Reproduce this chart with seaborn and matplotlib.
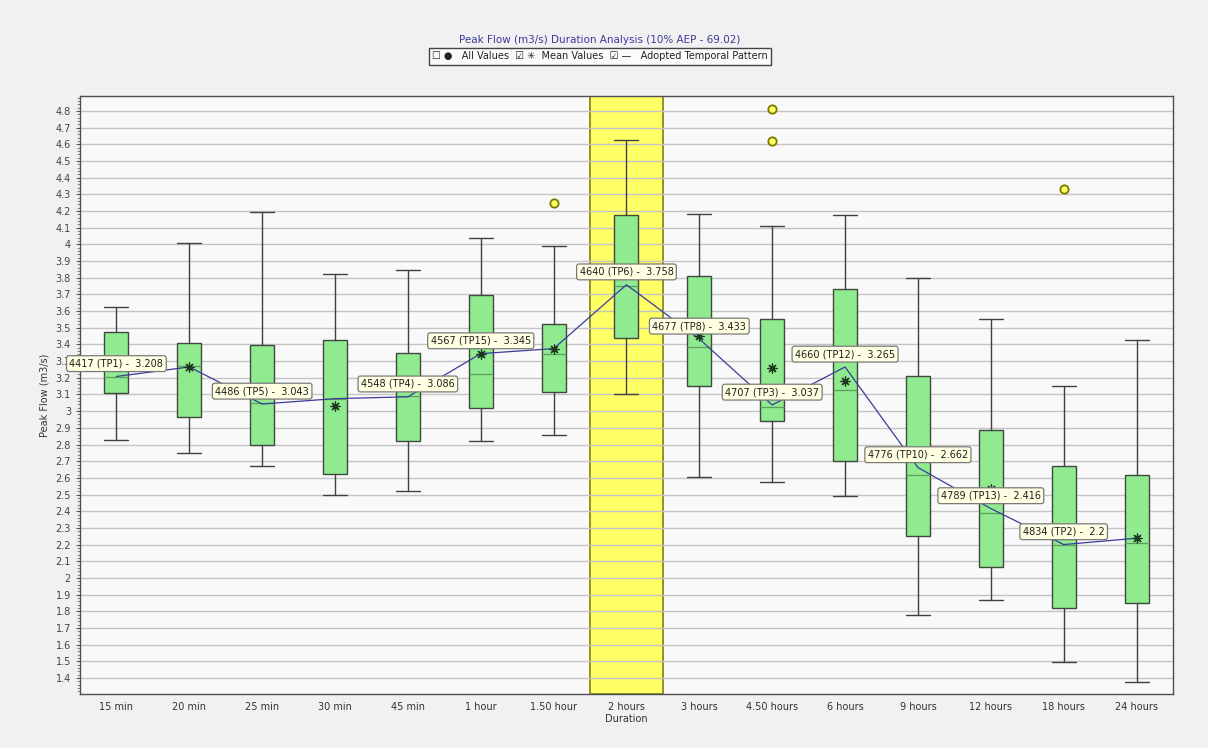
import numpy as np
import matplotlib
matplotlib.use("Agg")
import matplotlib.pyplot as plt
import matplotlib.ticker as mticker
import seaborn as sns

sns.set_style("white")
plt.rcParams["font.family"] = ["DejaVu Sans"]

# ---- data ----
durations = ["15 min", "20 min", "25 min", "30 min", "45 min", "1 hour", "1.50 hour",
             "2 hours", "3 hours", "4.50 hours", "6 hours", "9 hours", "12 hours",
             "18 hours", "24 hours"]
whisker_low = [2.828, 2.751, 2.669, 2.499, 2.524, 2.82, 2.86, 3.10, 2.604, 2.573,
               2.493, 1.78, 1.867, 1.497, 1.377]
q1 = [3.107, 2.967, 2.799, 2.624, 2.824, 3.018, 3.114, 3.441, 3.153, 2.939,
      2.70, 2.249, 2.065, 1.821, 1.851]
medians = [3.205, 3.27, 3.05, 3.07, 3.09, 3.225, 3.345, 3.75, 3.384, 3.024,
           3.124, 2.62, 2.391, 2.20, 2.209]
q3 = [3.477, 3.411, 3.399, 3.424, 3.35, 3.699, 3.52, 4.178, 3.81, 3.55,
      3.73, 3.213, 2.889, 2.669, 2.62]
whisker_high = [3.627, 4.01, 4.194, 3.822, 3.846, 4.04, 3.99, 4.628, 4.182, 4.108,
                4.178, 3.80, 3.55, 3.15, 3.425]
means = [3.285, 3.263, 3.12, 3.03, 3.163, 3.345, 3.375, 3.835, 3.449, 3.26,
         3.18, 2.739, 2.535, 2.277, 2.238]
adopted = [3.208, 3.265, 3.043, 3.075, 3.086, 3.345, 3.375, 3.758, 3.433, 3.037,
           3.265, 2.662, 2.416, 2.2, 2.238]

outlier_cats = ["1.50 hour", "4.50 hours", "4.50 hours", "18 hours"]
outlier_vals = [4.248, 4.812, 4.618, 4.33]

label_cats = ["15 min", "25 min", "45 min", "1 hour", "2 hours", "3 hours",
              "4.50 hours", "6 hours", "9 hours", "12 hours", "18 hours"]
label_events = [4417, 4486, 4548, 4567, 4640, 4677, 4707, 4660, 4776, 4789, 4834]
label_tps = ["TP1", "TP5", "TP4", "TP15", "TP6", "TP8", "TP3", "TP12", "TP10", "TP13", "TP2"]

highlight = "2 hours"
title = "Peak Flow (m3/s) Duration Analysis (10% AEP - 69.02)"

# ---- figure ----
fig = plt.figure(figsize=(12.08, 7.48), dpi=100, facecolor="#f1f1f1")
ax = fig.add_axes([0.0662, 0.0722, 0.9048, 0.7995])
ax.set_facecolor("#f9f9f9")

positions = np.arange(len(durations))

# highlighted duration band
hi = durations.index(highlight)
ax.axvspan(hi - 0.5, hi + 0.5, facecolor="#ffff66", edgecolor="#8a8a1a", linewidth=1.3, zorder=0.3)

# boxes from summary stats
stats = []
for i, d in enumerate(durations):
    stats.append(dict(label=d, whislo=whisker_low[i], q1=q1[i], med=medians[i],
                      q3=q3[i], whishi=whisker_high[i], fliers=[]))
ax.bxp(stats, positions=positions, widths=0.33, patch_artist=True, showfliers=False,
       boxprops=dict(facecolor="#90ea90", edgecolor="#3d4a3d", linewidth=1.0),
       medianprops=dict(color="#5c9e5c", linewidth=0.9),
       whiskerprops=dict(color="#404040", linewidth=1.0),
       capprops=dict(color="#404040", linewidth=1.0),
       capwidths=0.33, zorder=2)

# adopted temporal pattern
sns.lineplot(x=positions, y=adopted, color="#3b3b9c", linewidth=0.9, ax=ax, zorder=3)

# mean values
sns.scatterplot(x=positions, y=means, marker=(8, 2, 0), s=42, color="#1e3a1e",
                edgecolor="#1e3a1e", linewidth=0.9, ax=ax, zorder=4)

# outliers
sns.scatterplot(x=[durations.index(c) for c in outlier_cats], y=outlier_vals, s=36,
                color="#ffff66", edgecolor="#7a7a00", linewidth=1.3, ax=ax, zorder=4)

# labels for the adopted pattern
for cat, ev, tp in zip(label_cats, label_events, label_tps):
    i = durations.index(cat)
    ax.text(i, adopted[i] + 0.077, f"{ev} ({tp}) -  {adopted[i]:g}", fontsize=7,
            ha="center", va="center", color="#202020", zorder=6,
            bbox=dict(boxstyle="round,pad=0.3,rounding_size=0.25",
                      facecolor="#ffffe1", edgecolor="#7a7a7a", linewidth=0.9))

# axes
ax.set_xlim(-0.5, len(durations) - 0.5)
ax.set_ylim(1.304, 4.89)
ax.set_xticks(positions)
ax.set_xticklabels(durations, fontsize=7, color="#333333")
ax.yaxis.set_major_locator(mticker.MultipleLocator(0.1))
ax.yaxis.set_minor_locator(mticker.MultipleLocator(0.02))
ax.yaxis.set_major_formatter(mticker.FuncFormatter(lambda v, _: f"{round(v, 1):g}"))
ax.tick_params(axis="y", which="major", labelsize=7, labelcolor="#444444",
               length=3, color="#555555", left=True)
ax.tick_params(axis="y", which="minor", length=2, color="#777777", left=True)
ax.tick_params(axis="x", length=0, pad=6)
ax.grid(axis="y", which="major", color="#c4c4c4", linewidth=1.0)
ax.set_axisbelow(True)
for s in ax.spines.values():
    s.set_color("#505050")
    s.set_linewidth(1.0)
ax.set_xlabel("Duration", fontsize=7, color="#333333", labelpad=1)
ax.set_ylabel("Peak Flow (m3/s)", fontsize=7, color="#333333", labelpad=4)

# title and legend strip
fig.text(0.4967, 0.9465, title, fontsize=7.5, color="#3a3a9a", ha="center", va="center")
fig.text(0.4967, 0.9245,
         "\u2610 \u25cf   All Values  \u2611 \u2733  Mean Values  \u2611 \u2014   Adopted Temporal Pattern",
         fontsize=7, color="#222222", ha="center", va="center",
         bbox=dict(boxstyle="square,pad=0.35", facecolor="#fbfbfb", edgecolor="#444444", linewidth=1.0))

fig.savefig("out.png", dpi=100, facecolor=fig.get_facecolor())
